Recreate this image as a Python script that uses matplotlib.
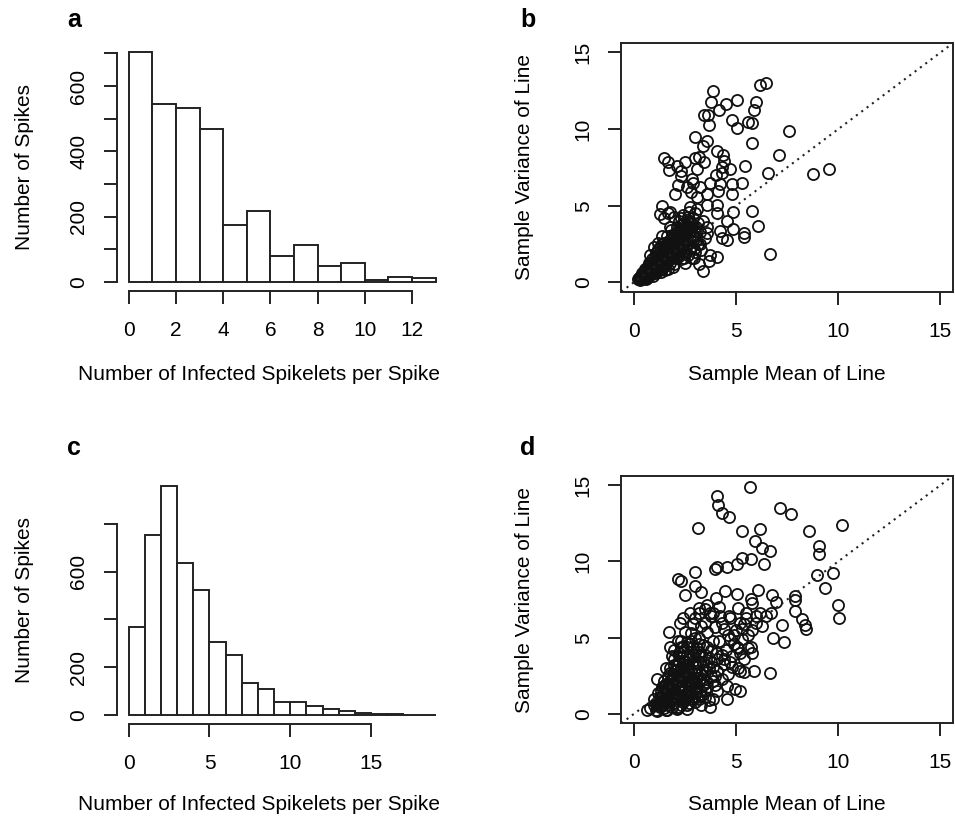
import numpy as np
import matplotlib
matplotlib.use('Agg')
import matplotlib.pyplot as plt

plt.rcParams['font.family'] = ['Liberation Sans', 'DejaVu Sans']
plt.rcParams['font.size'] = 15

# histogram a: counts per spike, bins of width 1 from 0
counts_a = [703, 545, 534, 467, 174, 218, 80, 113, 47, 57, 6, 16, 11]
yticks_a = [0, 100, 200, 300, 400, 500, 600, 700]
ylabels_a = ['0', '', '200', '', '400', '', '600', '']
xticks_a = [0, 2, 4, 6, 8, 10, 12]

# histogram c
counts_c = [370, 755, 960, 635, 523, 307, 251, 135, 107, 56, 54, 38, 27, 15, 10, 4, 3, 2, 1]
yticks_c = [0, 200, 400, 600, 800]
ylabels_c = ['0', '200', '', '600', '']
xticks_c = [0, 5, 10, 15]

# scatter b: sample mean vs sample variance per line
b_mean = [3.90, 6.17, 6.49, 3.77, 4.50, 5.08, 6.00, 4.19, 5.90, 3.44,
          3.62, 4.82, 5.57, 5.80, 3.70, 5.08, 7.58, 2.99, 3.60, 3.38,
          5.78, 4.06, 7.09, 1.49, 1.66, 2.11, 2.53, 2.99, 3.21, 3.46,
          4.38, 4.42, 4.30, 1.75, 2.32, 3.08, 4.71, 5.47, 2.31, 2.84,
          4.03, 4.30, 6.57, 8.77, 9.56, 2.19, 2.89, 3.73, 4.22, 4.81,
          5.29, 2.03, 2.82, 3.57, 4.11, 4.79, 3.57, 4.06, 1.38, 1.27,
          1.66, 4.09, 4.87, 5.78, 4.55, 6.09, 3.60, 4.22, 4.87, 4.30,
          4.58, 5.39, 5.39, 3.25, 3.73, 4.09, 6.66, 2.97, 3.41, 2.76,
          3.08, 2.60, 3.25,
          0.20, 0.25, 0.30, 0.35, 0.40, 0.45, 0.50, 0.50, 0.55, 0.60,
          0.60, 0.65, 0.70, 0.70, 0.75, 0.80, 0.80, 0.85, 0.90, 0.90,
          0.95, 1.00, 1.00, 1.05, 1.10, 1.10, 1.15, 1.20, 1.20, 1.25,
          1.30, 1.30, 1.35, 1.40, 1.40, 1.45, 1.50, 1.50, 1.55, 1.60,
          1.60, 1.65, 1.70, 1.70, 1.75, 1.80, 1.80, 1.85, 1.90, 1.90,
          1.95, 2.00, 2.00, 2.05, 2.10, 2.10, 2.15, 2.20, 2.20, 2.25,
          2.30, 2.30, 2.35, 2.40, 2.40, 2.45, 2.50, 2.50, 2.55, 2.60,
          2.60, 2.65, 2.70, 2.70, 2.75, 2.80, 2.85, 2.90, 2.90, 3.00,
          3.00, 3.05, 3.10, 3.15, 3.20, 3.25, 3.30, 3.40, 3.50, 3.60,
          3.70, 0.30, 0.40, 0.55, 0.65, 0.75, 0.85, 0.95, 1.05, 1.15,
          1.25, 1.35, 1.45, 1.55, 1.65, 1.75, 1.85, 1.95, 2.05, 2.15,
          2.25, 2.35, 2.45, 2.55, 2.65, 2.75, 2.85, 2.95, 1.00, 1.20,
          1.40, 0.80, 1.50, 1.80, 2.00,
          0.45, 0.60, 0.75, 0.90, 1.05, 1.20, 1.35, 1.50, 1.65, 1.80,
          1.95, 2.10, 2.25, 1.10, 1.30, 1.50, 1.70, 1.90, 2.10, 2.30,
          0.70, 0.90, 1.60, 1.80, 2.00, 2.20, 2.40, 1.40, 1.20, 2.60,
          1.85, 2.05, 2.25, 2.45, 2.65, 2.85, 3.05, 1.95, 2.15, 2.35,
          2.55, 2.75, 2.95, 3.15, 2.00, 2.20, 2.40, 2.60, 2.80, 3.00,
          1.70, 1.90, 2.10, 2.30, 2.50, 2.70, 2.90, 1.60, 1.40, 1.20]
b_var = [12.50, 12.87, 12.98, 11.74, 11.65, 11.87, 11.78, 11.28, 11.22, 10.93,
         10.93, 10.63, 10.48, 10.41, 10.24, 10.09, 9.85, 9.50, 9.22, 8.89,
         9.07, 8.57, 8.33, 8.11, 7.89, 7.63, 7.85, 8.11, 8.20, 7.87,
         8.30, 7.93, 7.54, 7.33, 7.28, 7.43, 7.37, 7.59, 6.96, 6.74,
         6.98, 7.11, 7.15, 7.07, 7.39, 6.35, 6.52, 6.46, 6.41, 6.41,
         6.46, 5.76, 5.89, 5.76, 5.96, 5.76, 5.04, 5.04, 5.00, 4.48,
         4.52, 4.54, 4.59, 4.65, 4.02, 3.70, 3.20, 3.35, 3.46, 2.87,
         2.76, 3.20, 2.98, 2.54, 1.78, 1.67, 1.83, 1.57, 0.74, 4.93,
         5.59, 6.24, 6.24,
         0.20, 0.30, 0.15, 0.40, 0.25, 0.50, 0.30, 0.70, 0.45, 0.20,
         0.90, 0.60, 0.35, 1.10, 0.80, 0.50, 1.30, 1.00, 0.70, 1.50,
         0.40, 1.20, 0.90, 1.70, 0.60, 1.40, 2.00, 1.00, 1.80, 0.80,
         1.50, 2.30, 1.20, 0.90, 2.00, 1.60, 2.60, 1.10, 1.90, 1.40,
         2.40, 3.00, 1.70, 0.90, 2.20, 2.80, 1.30, 3.40, 2.00, 1.60,
         2.60, 3.10, 1.20, 2.30, 3.60, 1.80, 2.90, 4.00, 2.10, 3.30,
         1.50, 2.60, 3.80, 4.40, 2.00, 3.00, 3.50, 1.30, 2.40, 4.10,
         2.80, 1.80, 3.30, 4.60, 2.20, 3.80, 1.60, 2.70, 4.20, 3.00,
         2.00, 3.60, 4.80, 2.50, 1.20, 3.30, 2.10, 4.00, 2.90, 3.60,
         1.40, 0.35, 0.60, 0.90, 0.30, 1.30, 0.60, 1.10, 0.70, 1.30,
         1.60, 0.70, 2.20, 0.80, 2.00, 1.50, 2.40, 1.00, 1.60, 2.50,
         1.90, 2.90, 1.60, 3.20, 2.50, 3.00, 2.40, 3.40, 2.30, 2.60,
         3.00, 1.80, 4.20, 4.60, 4.30,
         0.35, 0.55, 0.65, 1.25, 1.05, 1.55, 1.85, 1.35, 2.65, 2.10,
         2.90, 2.70, 3.00, 1.90, 1.80, 2.30, 2.60, 3.10, 2.20, 3.40,
         0.60, 0.95, 1.20, 3.60, 2.00, 2.80, 3.30, 2.50, 2.20, 3.70,
         2.20, 2.80, 3.50, 3.90, 4.30, 3.60, 2.80, 1.80, 3.40, 2.30,
         2.00, 4.00, 2.20, 3.90, 2.60, 1.70, 3.20, 3.00, 3.30, 4.50,
         2.50, 2.90, 2.40, 4.20, 2.90, 3.70, 3.10, 2.10, 1.30, 1.10]

# scatter d
d_mean = [5.68, 4.06, 4.14, 4.30, 4.68, 7.14, 7.68, 3.17, 5.29, 6.20,
          8.56, 10.18, 5.96, 6.28, 6.67, 9.06, 9.06, 5.29, 5.76, 5.06,
          6.36, 4.06, 4.00, 4.55, 2.99, 2.19, 2.34, 3.00, 3.28, 2.52,
          8.96, 9.77, 9.38, 4.03, 4.48, 5.08, 6.06, 5.76, 5.80, 6.79,
          6.95, 7.87, 7.87, 7.87, 9.98, 10.06, 8.25, 8.36, 8.44, 7.27,
          6.82, 7.35, 6.30, 6.49, 6.74, 5.52, 6.00, 5.11, 4.68, 4.22,
          3.73, 3.21, 3.57, 2.76, 2.40, 2.27, 1.72, 1.79, 2.19, 5.76,
          5.80, 5.39, 5.20, 5.41, 5.89, 6.69, 5.08, 4.71, 4.55, 4.95,
          5.20, 4.58, 3.73, 3.90, 4.06, 3.12, 2.60, 2.11, 1.62, 1.14,
          0.65, 1.14,
          0.80, 1.00, 1.00, 1.10, 1.20, 1.20, 1.30, 1.30, 1.40, 1.40,
          1.50, 1.50, 1.50, 1.60, 1.60, 1.70, 1.70, 1.70, 1.80, 1.80,
          1.80, 1.90, 1.90, 2.00, 2.00, 2.00, 2.00, 2.10, 2.10, 2.10,
          2.20, 2.20, 2.20, 2.20, 2.30, 2.30, 2.30, 2.40, 2.40, 2.40,
          2.40, 2.50, 2.50, 2.50, 2.60, 2.60, 2.60, 2.60, 2.70, 2.70,
          2.70, 2.80, 2.80, 2.80, 2.90, 2.90, 3.00, 3.00, 3.00, 3.00,
          3.10, 3.10, 3.20, 3.20, 3.20, 3.30, 3.30, 3.40, 3.40, 3.50,
          3.50, 3.60, 3.60, 3.70, 3.70, 3.80, 3.80, 3.90, 4.00, 4.00,
          4.10, 4.10, 4.20, 4.30, 4.30, 4.40, 4.50, 4.60, 4.60, 4.70,
          4.80, 4.90, 5.00, 5.10, 5.20, 5.30, 5.40, 5.50, 5.60, 5.80,
          6.00, 6.20, 1.10, 1.25, 1.35, 1.45, 1.55, 1.65, 1.75, 1.85,
          1.95, 2.05, 2.15, 2.25, 2.35, 2.45, 2.55, 2.65, 2.75, 2.85,
          2.95, 3.05, 3.15, 3.25, 3.35, 3.45, 3.55, 1.60, 1.90, 2.30,
          2.80, 3.30, 3.00, 2.50, 3.90, 3.50, 4.20,
          3.50, 3.80, 4.40, 4.90, 5.30, 5.60, 3.20, 2.90, 4.70, 5.10,
          4.30, 3.90,
          1.30, 1.50, 1.70, 1.90, 2.10, 2.30, 2.50, 2.70, 2.90, 3.10,
          1.40, 1.60, 1.80, 2.00, 2.20, 2.40, 2.60, 2.80, 3.00, 3.20,
          1.90, 2.10, 2.30, 2.50, 2.70, 2.90, 3.30, 3.50, 1.20, 1.60,
          1.50, 1.80, 2.10, 2.40, 2.70, 3.00, 3.30, 3.60, 3.90, 1.60,
          1.90, 2.20, 2.50, 2.80, 3.10, 3.40, 3.70, 2.00, 2.30, 2.60,
          2.90, 3.20, 3.50, 3.80, 4.10, 2.20, 2.60, 3.00, 3.40, 1.40,
          1.70, 2.00, 2.40, 2.80, 3.20, 3.60, 4.00, 4.40, 4.80, 5.20]
d_var = [14.91, 14.30, 13.72, 13.17, 12.89, 13.50, 13.13, 12.17, 11.98, 12.15,
         12.02, 12.41, 11.37, 10.89, 10.67, 11.00, 10.52, 10.24, 10.17, 9.85,
         9.83, 9.65, 9.54, 9.61, 9.30, 8.87, 8.72, 8.39, 8.02, 7.83,
         9.09, 9.26, 8.28, 7.59, 8.09, 7.89, 8.13, 7.52, 7.30, 7.78,
         7.35, 7.74, 7.46, 6.76, 7.13, 6.33, 6.26, 5.83, 5.61, 5.85,
         4.98, 4.74, 5.80, 6.43, 6.65, 6.65, 6.43, 6.98, 6.43, 6.43,
         6.65, 6.98, 7.13, 6.65, 6.33, 6.00, 5.35, 4.37, 4.80, 4.37,
         3.98, 3.61, 2.85, 2.74, 2.80, 2.70, 4.37, 3.39, 1.87, 1.65,
         1.54, 1.00, 0.46, 1.00, 1.54, 1.11, 0.35, 0.35, 0.24, 0.20,
         0.24, 2.30,
         0.40, 0.60, 1.00, 0.30, 0.80, 1.40, 0.50, 1.10, 1.80, 0.80,
         0.40, 1.30, 2.20, 0.90, 1.60, 0.60, 2.50, 1.20, 1.90, 0.90,
         3.00, 1.40, 2.30, 0.70, 1.70, 2.80, 3.60, 1.10, 2.10, 3.20,
         0.50, 1.50, 2.50, 4.00, 1.00, 1.90, 3.00, 0.80, 2.30, 3.50,
         4.40, 1.30, 2.70, 1.80, 0.60, 2.10, 3.20, 3.90, 1.50, 2.50,
         4.60, 1.00, 2.90, 1.90, 3.50, 2.30, 0.80, 1.40, 4.10, 2.70,
         3.10, 1.80, 2.20, 3.80, 5.00, 1.20, 2.60, 3.40, 4.50, 1.60,
         2.90, 2.10, 5.40, 3.70, 0.90, 2.50, 4.20, 3.10, 1.90, 5.70,
         3.60, 2.80, 4.80, 2.30, 6.00, 3.30, 4.20, 5.20, 2.60, 6.30,
         3.80, 4.60, 5.50, 3.00, 6.00, 4.90, 5.90, 6.30, 4.30, 5.50,
         6.00, 6.60, 0.70, 1.00, 1.50, 0.60, 1.90, 1.30, 2.00, 1.10,
         2.60, 1.30, 1.80, 2.20, 1.50, 3.00, 2.40, 1.20, 2.00, 3.30,
         1.70, 2.40, 3.50, 1.50, 2.90, 2.00, 3.20, 3.00, 3.80, 4.80,
         5.30, 5.80, 6.30, 5.40, 6.60, 6.90, 7.00,
         6.00, 6.40, 5.60, 5.20, 5.60, 5.20, 6.60, 5.90, 4.90, 4.30,
         3.90, 4.80,
         0.80, 1.00, 1.50, 1.90, 2.50, 2.80, 3.40, 3.60, 3.90, 4.30,
         1.20, 2.00, 2.70, 3.20, 3.50, 4.10, 4.40, 4.80, 5.00, 4.60,
         0.50, 0.40, 0.60, 0.90, 0.70, 1.10, 0.60, 1.10, 0.60, 0.30,
         1.60, 2.20, 2.90, 3.30, 3.00, 2.10, 3.80, 4.40, 2.20, 0.80,
         1.00, 1.20, 1.60, 2.20, 2.60, 2.30, 3.00, 4.20, 4.40, 4.70,
         4.40, 4.10, 3.90, 3.40, 4.00, 3.80, 2.90, 3.40, 1.90, 1.00,
         1.90, 2.30, 2.70, 1.60, 1.00, 1.80, 2.50, 3.60, 3.10, 4.00]

scatter_ticks = [0, 5, 10, 15]

fig = plt.figure(figsize=(9.55, 8.17), dpi=100)
W, H = 955, 817


def rect(l, t, r, b):
    return [l / W, 1 - b / H, (r - l) / W, (b - t) / H]


def ticks_style(ax):
    ax.tick_params(direction='out', length=9.5, width=1.4, pad=11, color='#222222')
    ax.tick_params(axis='x', pad=12)
    for lab in ax.get_yticklabels():
        lab.set_rotation(90)
        lab.set_va('center')
        lab.set_ha('right')


def hist_panel(ax, counts, yticks, ylabels, xticks):
    edges = np.arange(len(counts) + 1)
    ax.bar(edges[:-1], counts, width=1, align='edge', facecolor='white',
           edgecolor='#222222', linewidth=1.4)
    span = edges[-1] - edges[0]
    ax.set_xlim(edges[0] - 0.04 * span, edges[-1] + 0.04 * span)
    ax.set_ylim(-0.04 * max(counts), 1.04 * max(counts))
    ax.set_yticks(yticks, ylabels)
    ax.set_xticks(xticks)
    for s in ['top', 'right']:
        ax.spines[s].set_visible(False)
    ax.spines['left'].set_bounds(yticks[0], yticks[-1])
    ax.spines['bottom'].set_bounds(xticks[0], xticks[-1])
    for s in ['left', 'bottom']:
        ax.spines[s].set_linewidth(1.4)
        ax.spines[s].set_color('#222222')
    ticks_style(ax)


def scatter_panel(ax, x, y):
    ax.plot(x, y, 'o', mfc='none', mec='#111111', ms=8.0, mew=1.3)
    ax.axline((0, 0), slope=1, color='#222222', lw=1.5, ls=(0, (1.0, 2.2)))
    ax.set_xlim(-0.6, 15.6)
    ax.set_ylim(-0.6, 15.6)
    ax.set_xticks(scatter_ticks)
    ax.set_yticks(scatter_ticks)
    for s in ax.spines.values():
        s.set_linewidth(1.4)
        s.set_color('#222222')
    ticks_style(ax)


ax_a = fig.add_axes(rect(116.5, 43.3, 447.8, 291))
hist_panel(ax_a, counts_a, yticks_a, ylabels_a, xticks_a)
ax_c = fig.add_axes(rect(116.5, 476.5, 447.8, 724.2))
hist_panel(ax_c, counts_c, yticks_c, ylabels_c, xticks_c)
ax_b = fig.add_axes(rect(621.3, 43.3, 952.7, 291.7))
scatter_panel(ax_b, b_mean, b_var)
ax_d = fig.add_axes(rect(621.3, 476, 952.7, 723.3))
scatter_panel(ax_d, d_mean, d_var)


def ftext(x, y, s, **kw):
    fig.text(x / W, 1 - y / H, s, **kw)


# axis titles
for y in [380, 810]:
    ftext(259, y, 'Number of Infected Spikelets per Spike', ha='center', va='baseline')
    ftext(787, y, 'Sample Mean of Line', ha='center', va='baseline')
for y in [167, 600]:
    ftext(30, y, 'Number of Spikes', ha='center', va='baseline', rotation=90,
          rotation_mode='anchor')
for y in [167.5, 600]:
    ftext(530, y, 'Sample Variance of Line', ha='center', va='baseline', rotation=90,
          rotation_mode='anchor')

# panel letters
for x, y, s in [(67, 27, 'a'), (520, 27, 'b'), (67, 455, 'c'), (520, 455, 'd')]:
    ftext(x, y, s, ha='left', va='baseline', fontsize=18, fontweight='bold')

fig.savefig('out.png', dpi=100)
